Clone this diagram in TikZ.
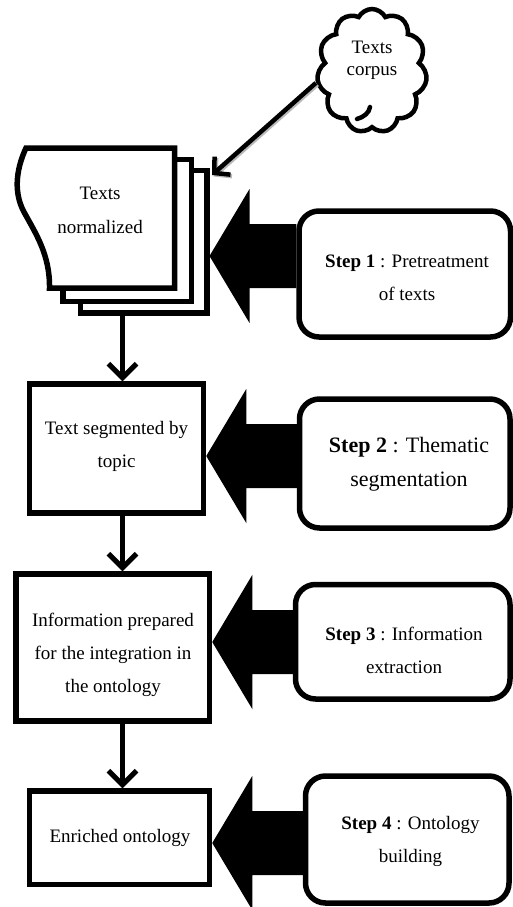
\documentclass[tikz,border=0pt]{standalone}
\usepackage{fontspec}
\setmainfont{Liberation Serif}
\usetikzlibrary{shapes.symbols,arrows.meta,calc}
\pgfdeclarelayer{background}
\pgfsetlayers{background,main}

% thick black block arrow: from step box #1 into box #2, centred on the level of #3
\newcommand{\feedarrow}[3]{%
  \fill ($(#2.east |- #3)$) -- ++(40,-67) -- ++(0,35)
    -- ($(#1.west |- #3)+(0,-32)$) -- ($(#1.west |- #3)+(0,32)$)
    -- ($(#2.east |- #3)+(40,32)$) -- ++(0,35) -- cycle;}

\begin{document}
\begin{tikzpicture}[x=1pt,y=-1pt,
  box/.style={draw, line width=5.5pt, line join=miter, rectangle, fill=white, inner sep=0pt},
  stepbox/.style={draw, line width=5.5pt, rectangle, rounded corners=20pt, fill=white, inner sep=0pt},
  docpage/.style={draw, line width=5.5pt, line join=miter, fill=white},
  lbl/.style={align=center, inner sep=0pt, font=\fontsize{19}{33}\selectfont},
  flow/.style={line width=5pt, -{Straight Barb[length=14pt,width=28pt]}},
  feed/.style={line width=4.5pt, -{Straight Barb[length=11pt,width=24pt]}}]

\useasboundingbox (0,0) rectangle (513,907);

% reference levels
\coordinate (spine) at (122.5,0);
\coordinate (a1) at (0,256);
\coordinate (a2) at (0,456);
\coordinate (a3) at (0,642);
\coordinate (a4) at (0,843);

% corpus cloud
\node[cloud, cloud puffs=11, cloud puff arc=125, draw, line width=4.5pt, fill=white,
      minimum width=110pt, minimum height=124pt, inner sep=0pt] (corpus) at (372,71) {};
\draw[line width=4.5pt, line cap=round] (357,119) .. controls (364,117) and (369,113) .. (370,107);
\node[lbl, font=\fontsize{19}{22}\selectfont] (corpustext) at (372,60) {Texts\\corpus};

% stack of normalized documents
\draw[docpage] (80.5,170.5) rectangle (207,313);
\draw[docpage] (63,159.5) rectangle (191.5,301.5);
\draw[docpage] (100,288) -- (174.5,288) -- (174.5,148) -- (26,148)
  .. controls (18,165) and (12,190) .. (24,212)
  .. controls (36,234) and (50,255) .. (49.5,288) -- cycle;
\node[lbl, font=\fontsize{19}{34}\selectfont] (docs) at (100,210) {Texts\\normalized};
\coordinate (stackbase) at (122.5,315.5);
\coordinate (stackright) at (209.5,256);
\coordinate (inlet) at (212,175);

% corpus feeds the stack
\draw[feed, gray!55] ($(corpus.192)+(1.5,1.5)$) -- ($(inlet)+(1.5,1.5)$);
\draw[feed] (corpus.192) -- (inlet);

% result boxes
\node[box, minimum width=174pt, minimum height=129pt] (b2) at (116.5,448.5) {};
\node[lbl] (b2text) at (116.5,446.5) {Text segmented by\\topic};
\node[box, minimum width=193.5pt, minimum height=147pt] (b3) at (112.75,647.5) {};
\node[lbl] (b3text) at (113,655) {Information prepared\\for the integration in\\the ontology};
\node[box, minimum width=180pt, minimum height=93.5pt] (b4) at (119.5,837.75) {};
\node[lbl] (b4text) at (120,838) {Enriched ontology};

% step boxes
\node[stepbox, minimum width=211.5pt, minimum height=126pt] (s1) at (404.75,274) {};
\node[lbl] (s1text) at (407,278) {\textbf{Step 1} : Pretreatment\\of texts};
\node[stepbox, minimum width=210.5pt, minimum height=129pt] (s2) at (404.75,463.5) {};
\node[lbl, font=\fontsize{22}{34}\selectfont] (s2text) at (409,464) {\textbf{Step 2} : Thematic\\segmentation};
\node[stepbox, minimum width=214.5pt, minimum height=114.5pt] (s3) at (402.75,641.75) {};
\node[lbl] (s3text) at (404,650.5) {\textbf{Step 3} : Information\\extraction};
\node[stepbox, minimum width=203.5pt, minimum height=127pt] (s4) at (407.25,839.5) {};
\node[lbl] (s4text) at (410.5,841.5) {\textbf{Step 4} : Ontology\\building};

% flow between the stages
\draw[flow] (stackbase) -- (b2.north -| spine);
\draw[flow] (b2.south -| spine) -- (b3.north -| spine);
\draw[flow] (b3.south -| spine) -- (b4.north -| spine);

% each step acts on its stage
\begin{pgfonlayer}{background}
  \feedarrow{s1}{stackright}{a1}
  \feedarrow{s2}{b2}{a2}
  \feedarrow{s3}{b3}{a3}
  \feedarrow{s4}{b4}{a4}
\end{pgfonlayer}

\end{tikzpicture}
\end{document}
